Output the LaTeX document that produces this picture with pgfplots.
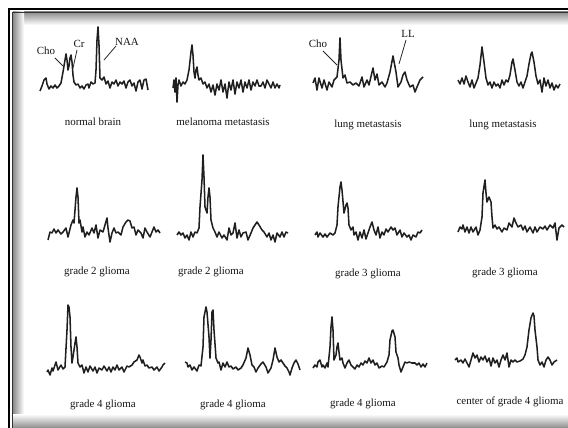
\documentclass[border=0pt]{standalone}
\usepackage{pgfplots}
\pgfplotsset{compat=1.18}
\usepackage{fontspec}
\setmainfont{Liberation Serif}
\tikzset{lab/.style={font=\fontsize{8.2}{9}\selectfont, text=black!92, inner sep=0pt},
  spec/.style={black!88, line width=1.15pt, line join=round}}
\begin{document}
\begin{tikzpicture}
\path[use as bounding box] (0,0) rectangle (426pt,321pt);
\begin{axis}[at={(0,0)}, anchor=south west, width=426pt, height=321pt,
  scale only axis, hide axis, xmin=0, xmax=568, ymin=0, ymax=428,
  y dir=reverse, clip=false]
% frame and shadows
\shade[top color=black!45, bottom color=white] (axis cs:13,12) rectangle (axis cs:568,25);
\shade[left color=black!45, right color=white] (axis cs:13,12) rectangle (axis cs:24,428);
\shade[top color=white, bottom color=black!45] (axis cs:13,414) rectangle (axis cs:568,428);
\draw[black, line width=1.6pt] (axis cs:9,428) -- (axis cs:9,9) -- (axis cs:568,9);
\draw[black!80, line width=0.8pt] (axis cs:12.5,428) -- (axis cs:12.5,12.5) -- (axis cs:568,12.5);
% 1 normal brain
\addplot[spec, no marks] coordinates {(40,91)(42,86)(44,80)(46,78)(47,84)(49,89)(51,86)(53,88)(55,85)(57,88)(59,86)(61,83)(63,72)(65,60)(66,54)(67,60)(68,70)(69,66)(70,58)(71,55)(72,62)(73,75)(74,82)(76,85)(78,84)(80,88)(82,86)(84,89)(86,85)(88,84)(89,88)(91,82)(93,84)(95,83)(96,70)(97,40)(98,27)(99,45)(100,78)(102,80)(104,77)(106,84)(108,81)(110,88)(112,82)(114,84)(116,80)(118,86)(120,82)(122,84)(124,81)(126,88)(128,82)(130,80)(132,86)(134,83)(136,91)(138,82)(140,80)(142,89)(144,80)(146,79)(148,90)};
% 2 melanoma metastasis
\addplot[spec, no marks] coordinates {(173,88)(174,80)(175,92)(176,78)(177,102)(178,85)(179,80)(181,86)(183,82)(185,84)(187,80)(189,70)(191,52)(192,45)(193,55)(194,72)(195,78)(196,70)(197,67)(198,75)(199,80)(201,78)(203,84)(205,82)(207,88)(209,84)(211,92)(213,85)(215,95)(217,84)(219,90)(221,80)(223,92)(225,84)(227,98)(229,82)(231,90)(233,80)(235,94)(237,82)(239,88)(241,80)(243,92)(245,82)(247,88)(249,80)(251,90)(253,82)(255,86)(257,80)(259,86)(261,86)(263,82)(265,88)(267,80)(269,84)(271,88)(273,82)(275,88)(277,84)(279,88)(280,85)};
% 3 lung metastasis
\addplot[spec, no marks] coordinates {(313,83)(315,78)(317,90)(319,78)(322,88)(324,80)(327,90)(329,82)(332,87)(334,80)(337,77)(339,60)(340,38)(341,60)(343,78)(345,75)(347,83)(350,82)(353,85)(356,83)(359,86)(362,77)(364,87)(367,80)(369,85)(373,68)(375,80)(377,74)(379,85)(382,82)(385,87)(387,83)(390,72)(393,56)(396,72)(398,87)(401,82)(403,75)(405,72)(407,80)(410,87)(413,85)(415,92)(417,87)(420,80)(423,77)};
% 4 lung metastasis
\addplot[spec, no marks] coordinates {(458,80)(460,84)(462,78)(464,84)(466,76)(468,82)(470,87)(472,80)(474,88)(476,83)(478,78)(480,65)(482,47)(484,62)(486,78)(488,85)(490,82)(492,88)(494,82)(496,86)(498,84)(500,88)(502,80)(504,85)(506,80)(508,82)(510,75)(512,62)(513,59)(515,70)(517,82)(519,86)(521,82)(523,88)(525,82)(527,76)(529,64)(531,54)(532,52)(534,62)(536,76)(538,84)(540,80)(542,92)(544,78)(546,86)(548,80)(550,88)(552,83)(554,90)(556,85)(558,88)(560,84)};
% 5 grade 2 glioma
\addplot[spec, no marks] coordinates {(48,240)(50,232)(52,233)(54,229)(56,233)(58,230)(61,234)(63,232)(66,228)(68,237)(71,225)(73,220)(74,223)(76,197)(77,188)(78,197)(79,223)(80,220)(82,232)(83,227)(85,237)(87,232)(89,235)(92,228)(94,233)(96,225)(98,238)(100,230)(103,232)(105,225)(107,218)(108,228)(110,242)(112,233)(114,228)(116,233)(118,232)(121,235)(123,227)(126,222)(128,220)(130,221)(132,228)(134,227)(136,235)(138,230)(141,233)(143,238)(145,228)(147,232)(150,237)(152,232)(154,227)(156,232)(158,230)(160,233)};
% 6 grade 2 glioma
\addplot[spec, no marks] coordinates {(177,235)(179,232)(181,235)(183,233)(185,238)(187,235)(189,240)(191,232)(193,237)(195,232)(197,233)(199,228)(200,207)(202,180)(203,155)(204,177)(205,207)(207,213)(208,197)(209,188)(210,197)(211,220)(213,228)(215,232)(217,237)(219,232)(222,238)(224,235)(227,240)(229,228)(231,235)(233,233)(235,223)(237,238)(239,230)(241,237)(243,233)(246,232)(248,240)(251,233)(253,228)(255,225)(257,222)(259,225)(262,230)(264,232)(267,237)(269,233)(271,240)(273,235)(275,242)(277,233)(280,237)(282,232)(284,237)(286,232)(288,233)};
% 7 grade 3 glioma
\addplot[spec, no marks] coordinates {(315,235)(317,232)(318,237)(320,233)(323,237)(325,234)(327,237)(330,233)(333,235)(335,233)(337,225)(338,207)(340,187)(341,182)(342,190)(344,213)(346,205)(347,203)(348,208)(349,225)(351,230)(353,227)(354,235)(356,232)(358,240)(360,232)(362,238)(364,230)(366,239)(368,233)(370,227)(372,222)(374,230)(376,235)(378,227)(380,238)(382,232)(384,235)(386,229)(388,232)(391,227)(393,230)(395,228)(397,235)(400,230)(402,237)(404,233)(407,237)(409,235)(411,240)(413,235)(416,237)(418,232)(420,233)(422,230)};
% 8 grade 3 glioma
\addplot[spec, no marks] coordinates {(458,232)(460,227)(462,229)(463,225)(465,232)(467,227)(469,233)(471,227)(473,232)(476,227)(478,235)(480,230)(482,217)(483,193)(485,180)(486,193)(487,202)(489,197)(491,202)(492,217)(493,228)(495,225)(497,229)(499,227)(502,232)(504,228)(507,230)(509,223)(512,227)(514,218)(516,223)(518,227)(521,225)(523,230)(525,226)(527,232)(530,227)(533,233)(535,227)(537,232)(540,227)(543,229)(545,226)(547,230)(550,225)(553,228)(555,223)(557,240)(559,228)(562,225)(564,227)};
% 9 grade 4 glioma
\addplot[spec, no marks] coordinates {(47,372)(48,370)(50,375)(52,368)(53,371)(56,362)(58,370)(61,365)(63,369)(65,367)(67,330)(68,305)(69,307)(70,317)(71,347)(72,363)(73,357)(75,343)(76,337)(77,347)(78,363)(80,367)(82,365)(84,373)(86,367)(88,372)(90,366)(93,371)(95,367)(97,373)(99,368)(102,370)(104,366)(107,371)(109,367)(111,372)(113,367)(115,370)(117,365)(119,370)(122,367)(124,372)(127,366)(129,367)(132,365)(134,362)(137,360)(139,355)(140,357)(142,363)(143,360)(145,366)(147,365)(149,368)(152,367)(154,370)(157,367)(159,371)(162,367)(163,365)(165,363)};
% 10 grade 4 glioma
\addplot[spec, no marks] coordinates {(185,362)(187,363)(188,367)(190,365)(192,370)(194,367)(197,371)(199,365)(201,366)(203,347)(204,317)(206,307)(207,312)(209,337)(210,358)(211,340)(212,312)(213,310)(214,330)(216,358)(218,363)(219,362)(221,370)(223,363)(225,367)(227,362)(229,367)(231,366)(233,369)(236,367)(238,370)(241,368)(243,365)(246,358)(248,348)(250,355)(252,365)(254,367)(256,372)(258,368)(261,364)(263,362)(266,367)(268,373)(271,368)(273,360)(275,348)(277,357)(279,362)(281,360)(283,363)(285,366)(287,368)(289,372)(290,375)(292,368)(294,363)(296,360)(298,364)(300,370)};
% 11 grade 4 glioma
\addplot[spec, no marks] coordinates {(313,368)(315,365)(317,367)(318,362)(320,360)(322,367)(323,365)(325,368)(327,363)(328,367)(330,347)(331,327)(332,317)(333,330)(334,360)(336,355)(337,347)(338,343)(339,352)(340,360)(342,358)(343,363)(345,368)(347,363)(349,360)(351,365)(353,367)(355,369)(357,365)(359,367)(361,363)(363,365)(365,361)(367,363)(369,358)(371,363)(373,360)(375,365)(377,363)(379,368)(382,366)(384,367)(387,362)(389,355)(390,340)(392,331)(393,330)(395,337)(396,352)(398,358)(399,365)(401,372)(403,367)(405,362)(407,363)(409,362)(412,363)(415,363)(417,365)(419,363)(421,367)(423,364)(425,367)(427,363)};
% 12 center of grade 4 glioma
\addplot[spec, no marks] coordinates {(455,360)(457,358)(458,362)(461,360)(463,363)(465,359)(467,363)(469,367)(471,360)(473,353)(475,358)(477,355)(479,362)(481,357)(483,360)(485,356)(487,362)(489,358)(491,366)(493,358)(495,363)(497,360)(499,367)(501,360)(503,355)(505,360)(507,353)(509,367)(511,360)(513,362)(515,360)(517,362)(520,361)(523,359)(525,355)(527,347)(529,330)(531,318)(533,313)(534,316)(535,330)(537,347)(538,360)(540,365)(542,362)(544,367)(546,360)(548,357)(550,360)(552,365)(554,362)(557,360)};
% annotations
\draw[black!85, line width=0.6pt] (axis cs:55,58) -- (axis cs:63,66);
\draw[black!85, line width=0.6pt] (axis cs:77,50) -- (axis cs:73,68);
\draw[black!85, line width=0.6pt] (axis cs:116,46) -- (axis cs:104,60);
\draw[black!85, line width=0.6pt] (axis cs:323,51) -- (axis cs:337,65);
\draw[black!85, line width=0.6pt] (axis cs:406,40) -- (axis cs:399,64);
\node[lab] at (axis cs:46,51) {Cho};
\node[lab] at (axis cs:79,44) {Cr};
\node[lab] at (axis cs:127,42) {NAA};
\node[lab] at (axis cs:318,44) {Cho};
\node[lab] at (axis cs:408,34) {LL};
% captions
\node[lab] at (axis cs:93,122) {normal brain};
\node[lab] at (axis cs:223,122) {melanoma metastasis};
\node[lab] at (axis cs:368,125) {lung metastasis};
\node[lab] at (axis cs:503,125) {lung metastasis};
\node[lab] at (axis cs:97,272) {grade 2 glioma};
\node[lab] at (axis cs:211,272) {grade 2 glioma};
\node[lab] at (axis cs:368,274) {grade 3 glioma};
\node[lab] at (axis cs:505,273) {grade 3 glioma};
\node[lab] at (axis cs:103,405) {grade 4 glioma};
\node[lab] at (axis cs:233,405) {grade 4 glioma};
\node[lab] at (axis cs:363,404) {grade 4 glioma};
\node[lab] at (axis cs:510,402) {center of grade 4 glioma};
\end{axis}
\end{tikzpicture}
\end{document}
